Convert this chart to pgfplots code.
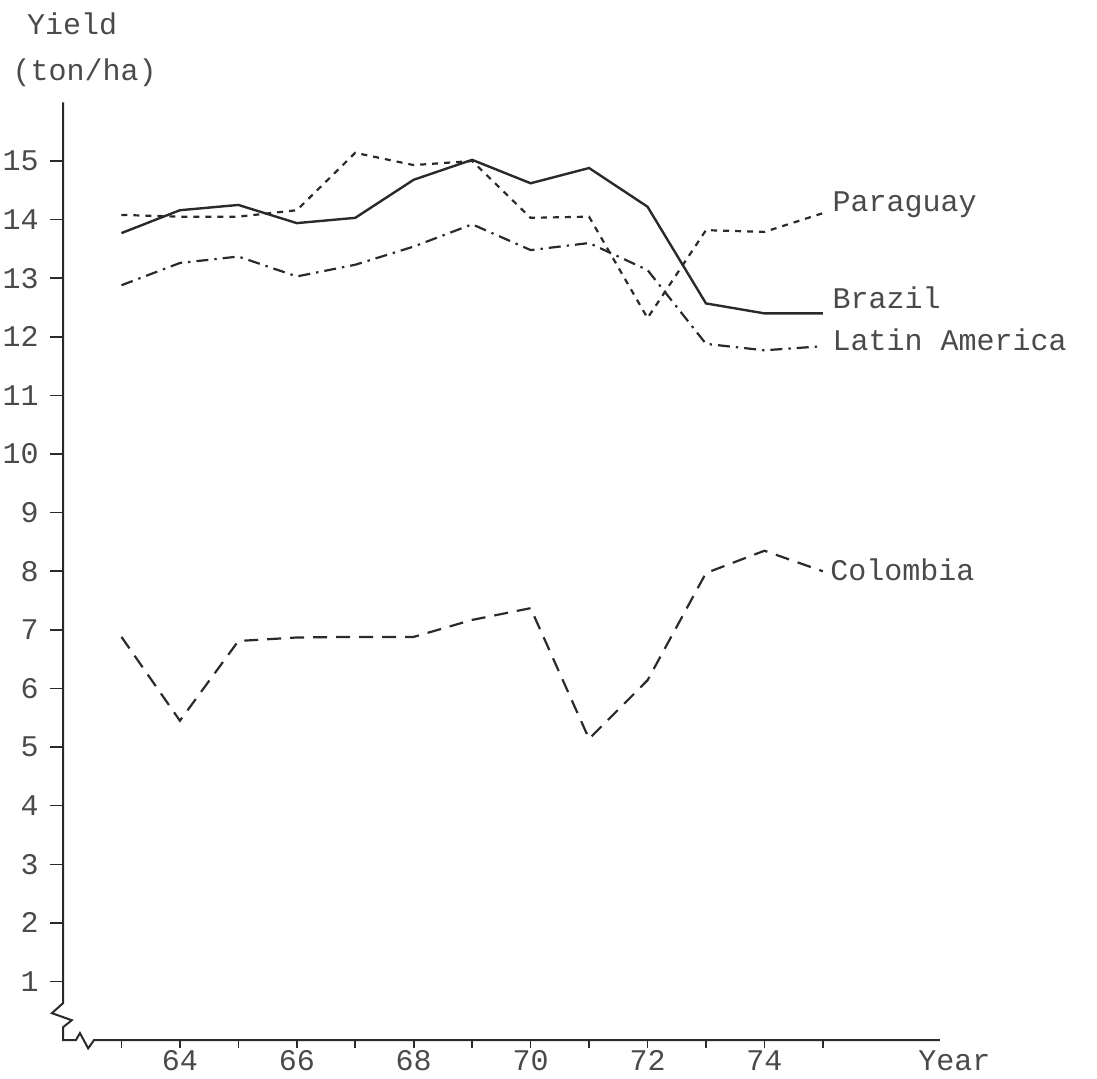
\documentclass[border=0pt]{standalone}
\usepackage{pgfplots}
\pgfplotsset{compat=1.18}
\usepackage{fontspec}
\setmainfont{Liberation Mono}
\definecolor{ink}{HTML}{2A2A2A}
\definecolor{txt}{HTML}{4A4A4A}
\begin{document}
\begin{tikzpicture}
\begin{axis}[
  scale only axis,
  width=438.5pt, height=469pt,
  xmin=62, xmax=77, ymin=0, ymax=16,
  axis lines=none,
  clip=false,
  font=\fontsize{15}{17}\selectfont,
  /pgf/number format/assume math mode=true,
  xtick=\empty, ytick=\empty,
]
% invisible frame for proportions
\path (axis cs:60.922,-0.648) rectangle (axis cs:79.69,17.747);
% axes with break marks
\draw[ink, line width=1pt] (axis cs:62,16) -- (axis cs:62,0.63) -- (axis cs:61.81,0.46) -- (axis cs:62.15,0.34) -- (axis cs:62,0.22) -- (axis cs:62,0)
  -- (axis cs:62.22,0) -- (axis cs:62.29,0.12) -- (axis cs:62.43,-0.14) -- (axis cs:62.53,0) -- (axis cs:77,0);
% y ticks
\pgfplotsinvokeforeach{1,...,15}{
  \draw[ink, line width=0.8pt] (axis cs:62,#1) -- ([xshift=-6.5pt]axis cs:62,#1);
  \node[txt, anchor=east, inner sep=0pt] at ([xshift=-12pt]axis cs:62,#1) {#1};
}
% x ticks
\pgfplotsinvokeforeach{63,...,75}{
  \draw[ink, line width=0.8pt] (axis cs:#1,0) -- ([yshift=-4pt]axis cs:#1,0);
}
\pgfplotsinvokeforeach{64,66,...,74}{
  \node[txt, anchor=north, inner sep=0pt] at ([yshift=-5pt]axis cs:#1,0) {#1};
}
\node[txt, anchor=north, inner sep=0pt] at ([yshift=-5pt]axis cs:77.25,0) {Year};
\node[txt, anchor=base west, inner sep=0pt] at (axis cs:61.38,17.15) {Yield};
\node[txt, anchor=base west, inner sep=0pt] at (axis cs:61.13,16.38) {(ton/ha)};

% Brazil
\addplot[ink, line width=1.2pt] coordinates {
 (63,13.77) (64,14.16) (65,14.25) (66,13.94) (67,14.03) (68,14.68) (69,15.02)
 (70,14.62) (71,14.88) (72,14.22) (73,12.57) (74,12.40) (75,12.40)};
% Paraguay
\addplot[ink, line width=1.1pt, dash pattern=on 3pt off 3pt] coordinates {
 (63,14.08) (64,14.05) (65,14.05) (66,14.16) (67,15.14) (68,14.93) (69,15.00)
 (70,14.03) (71,14.05) (72,12.32) (73,13.82) (74,13.79) (75,14.11)};
% Latin America
\addplot[ink, line width=1.1pt, dash pattern=on 6pt off 3pt on 1.2pt off 3pt] coordinates {
 (63,12.88) (64,13.26) (65,13.37) (66,13.03) (67,13.23) (68,13.54) (69,13.92)
 (70,13.48) (71,13.60) (72,13.14) (73,11.88) (74,11.77) (75,11.84)};
% Colombia
\addplot[ink, line width=1.1pt, dash pattern=on 7pt off 4.5pt] coordinates {
 (63,6.88) (64,5.45) (65,6.81) (66,6.87) (67,6.88) (68,6.88) (69,7.17)
 (70,7.37) (71,5.14) (72,6.14) (73,7.97) (74,8.35) (75,8.00)};

\node[txt, anchor=base west, inner sep=0pt] at (axis cs:75.16,14.13) {Paraguay};
\node[txt, anchor=base west, inner sep=0pt] at (axis cs:75.16,12.49) {Brazil};
\node[txt, anchor=base west, inner sep=0pt] at (axis cs:75.16,11.77) {Latin America};
\node[txt, anchor=base west, inner sep=0pt] at (axis cs:75.12,7.85) {Colombia};
\end{axis}
\end{tikzpicture}
\end{document}
